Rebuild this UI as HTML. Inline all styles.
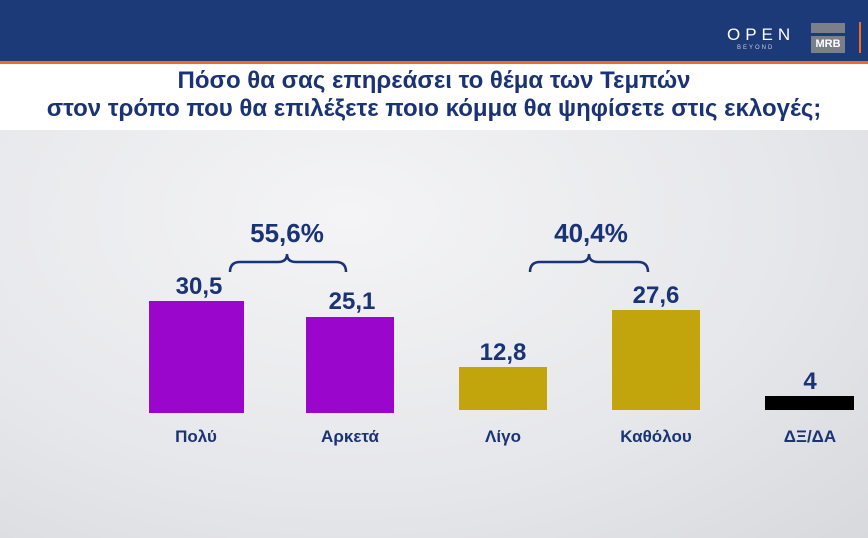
<!DOCTYPE html>
<html><head><meta charset="utf-8"><style>
body{margin:0;width:868px;height:538px;overflow:hidden;font-family:"Liberation Sans",sans-serif;position:relative;background:radial-gradient(ellipse at 40% 40%,#f4f4f6 0%,#e6e7ea 60%,#d8d9dc 100%)}
.hdr{position:absolute;left:0;top:0;width:868px;height:61px;background:#1c3a78}
.or{position:absolute;left:0;top:61px;width:868px;height:3px;background:#f26a1f}
.title{position:absolute;left:0;top:64px;width:868px;height:66px;background:#fff;color:#1a3276;font-weight:bold;font-size:24px;text-align:center;line-height:28px;padding-top:3px;box-sizing:border-box;white-space:nowrap}
.bar{position:absolute}
.v{position:absolute;color:#1a3276;font-weight:bold;font-size:24px;text-align:center;width:120px}
.l{position:absolute;color:#1a3276;font-weight:bold;font-size:17px;text-align:center;width:140px;top:427px}
.p{position:absolute;color:#1a3276;font-weight:bold;font-size:26px;text-align:center;width:120px}
</style></head><body>
<div class="hdr"></div><div class="or"></div>
<div style="position:absolute;left:727px;top:25px;color:#fff;font-size:17px;letter-spacing:5px">OPEN</div>
<div style="position:absolute;left:737px;top:45px;color:#ccd;font-size:6px;letter-spacing:2px">BEYOND</div>
<div style="position:absolute;left:811px;top:23px;width:34px;height:10px;background:#7b7f8a"></div>
<div style="position:absolute;left:811px;top:36px;width:34px;height:17px;background:#7b7f8a;color:#fff;font-weight:bold;font-size:11px;text-align:center;line-height:17px">MRB</div>
<div style="position:absolute;left:859px;top:22px;width:2px;height:31px;background:#f26a1f"></div>
<div class="title">Πόσο θα σας επηρεάσει το θέμα των Τεμπών<br>στον τρόπο που θα επιλέξετε ποιο κόμμα θα ψηφίσετε στις εκλογές;</div>
<div class="bar" style="left:149px;top:301px;width:95px;height:112px;background:#9a06cc"></div>
<div class="bar" style="left:306px;top:317px;width:88px;height:96px;background:#9a06cc"></div>
<div class="bar" style="left:459px;top:367px;width:88px;height:43px;background:#c2a50c"></div>
<div class="bar" style="left:612px;top:310px;width:88px;height:100px;background:#c2a50c"></div>
<div class="bar" style="left:765px;top:396px;width:89px;height:14px;background:#000"></div>
<div class="v" style="left:139px;top:273px">30,5</div>
<div class="v" style="left:292px;top:288px">25,1</div>
<div class="v" style="left:443px;top:339px">12,8</div>
<div class="v" style="left:596px;top:282px">27,6</div>
<div class="v" style="left:750px;top:368px">4</div>
<div class="l" style="left:126px">Πολύ</div>
<div class="l" style="left:280px">Αρκετά</div>
<div class="l" style="left:433px">Λίγο</div>
<div class="l" style="left:586px">Καθόλου</div>
<div class="l" style="left:740px">ΔΞ/ΔΑ</div>
<div class="p" style="left:227px;top:218px">55,6%</div>
<div class="p" style="left:531px;top:218px">40,4%</div>
<svg style="position:absolute;left:0;top:0" width="868" height="538"><g fill="none" stroke="#1a3276" stroke-width="2.5">
<path d="M230 272 Q230 262 240 262 L278 262 Q287 262 287 254 Q287 262 296 262 L336 262 Q346 262 346 272"/>
<path d="M530 272 Q530 262 540 262 L580 262 Q589 262 589 254 Q589 262 598 262 L638 262 Q648 262 648 272"/>
</g></svg>
</body></html>
